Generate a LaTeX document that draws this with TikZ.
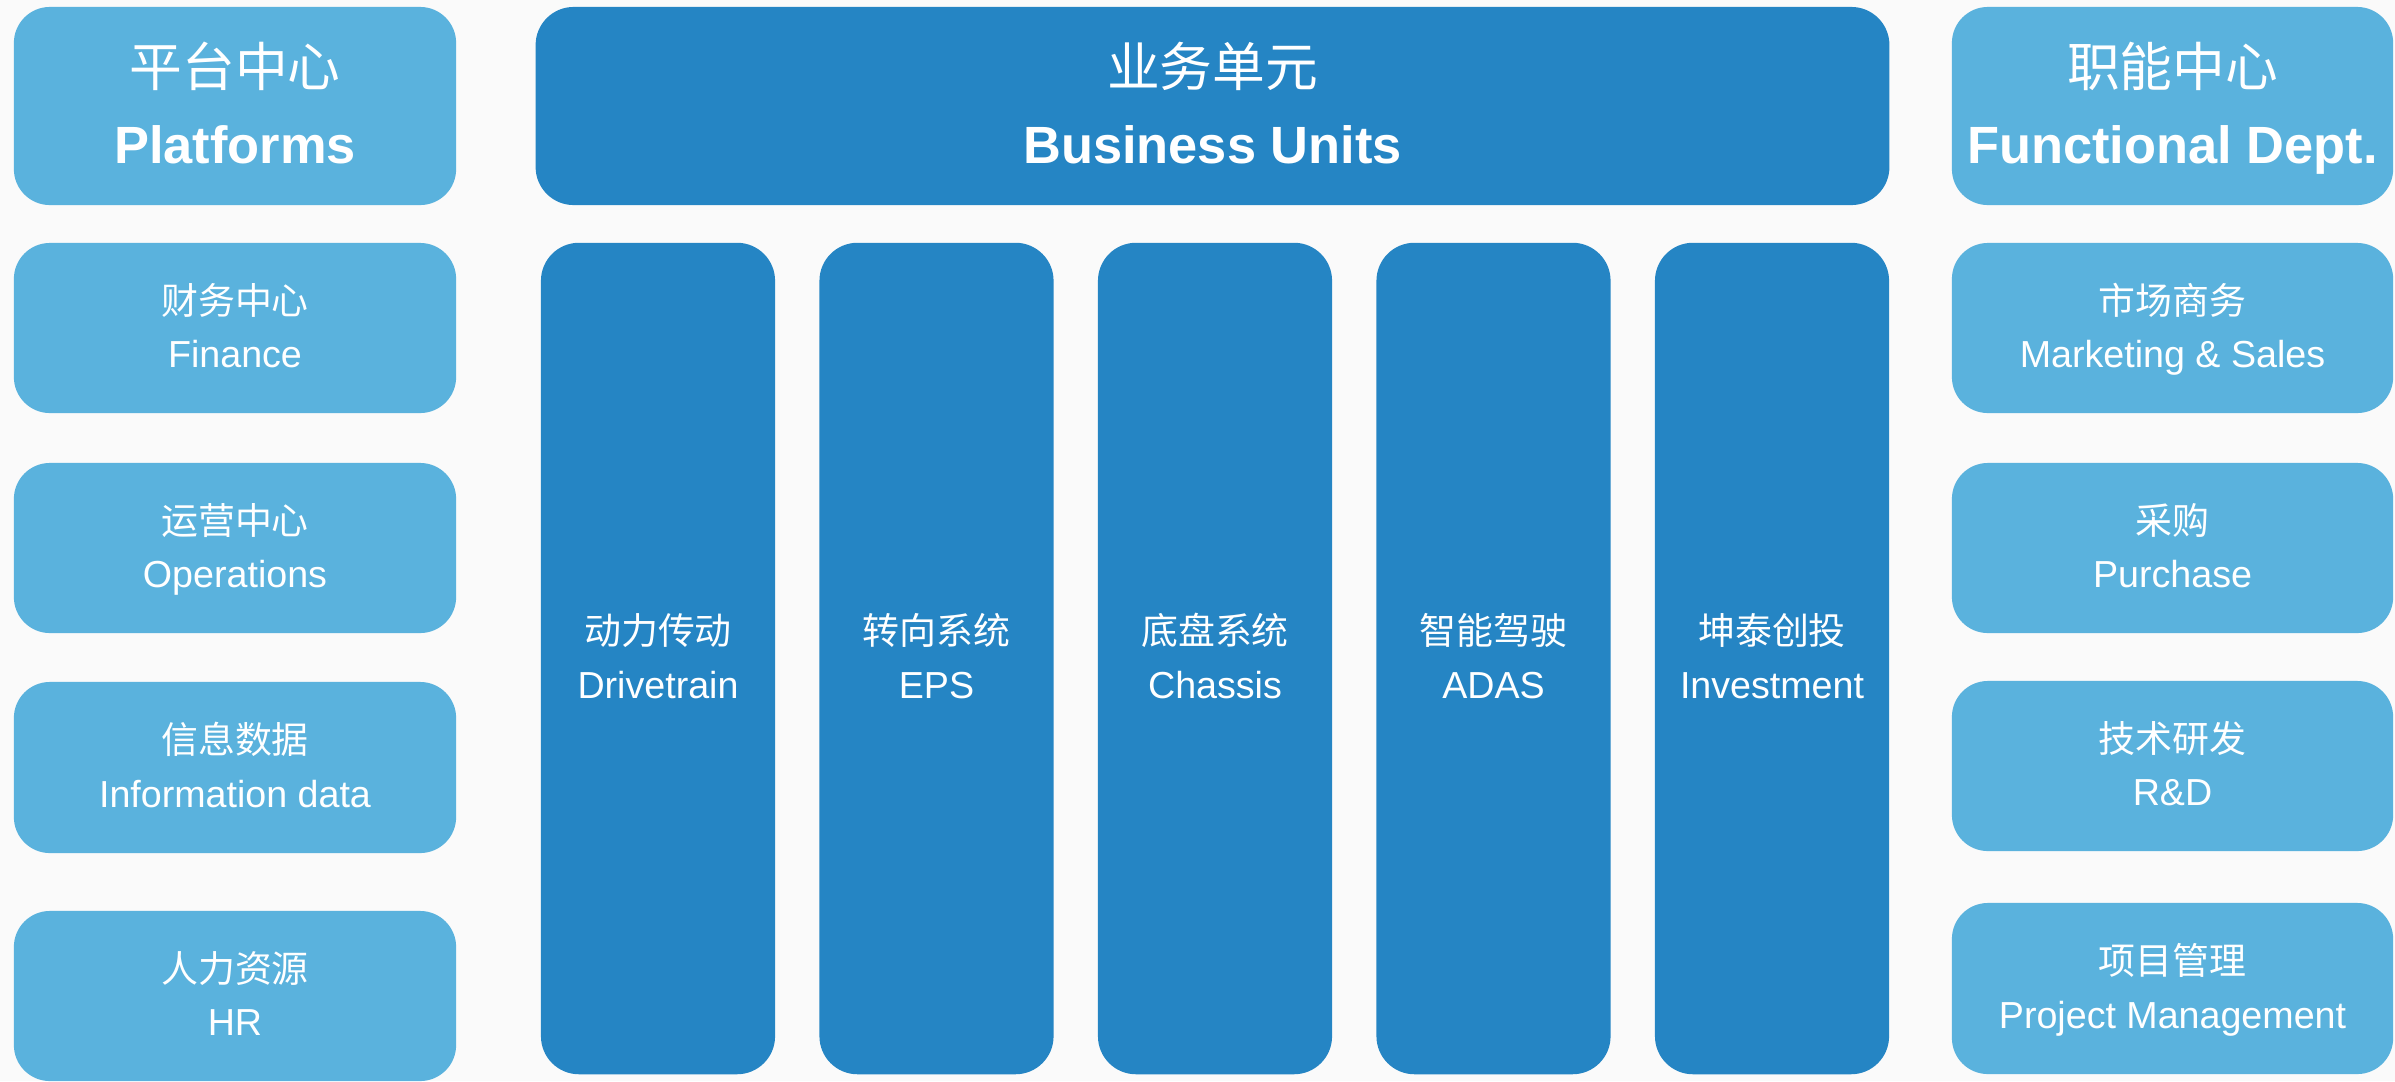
\documentclass[tikz,border=0pt]{standalone}
\usepackage{fontspec}
\setmainfont{Liberation Sans}
\newfontfamily\cjk{Noto Sans CJK SC}
\definecolor{lightblu}{HTML}{5AB2DD}
\definecolor{darkblu}{HTML}{2585C4}
\definecolor{bgcol}{HTML}{FAFAFA}
\newcommand\blk[9]{%
  \pgfmathsetmacro\bw{(#5-#3)/100}\pgfmathsetmacro\bh{(#6-#4)/100}%
  \pgfmathsetmacro\bx{(#3+#5)/2}\pgfmathsetmacro\by{(#4+#6)/2}%
  \node[#2, minimum width=\bw cm, minimum height=\bh cm] (#1) at (\bx,\by) {};
  \ifnum#9=1
    \node[cnh] (#1cn) at ([yshift=0.19cm]#1.center) {#7};
    \node[enh] (#1en) at ([yshift=-0.57cm]#1.center) {#8};
  \else
    \node[cns] (#1cn) at ([yshift=0.14cm]#1.center) {#7};
    \node[ens] (#1en) at ([yshift=-0.395cm]#1.center) {#8};
  \fi
}
\begin{document}
\begin{tikzpicture}[x=0.01cm,y=-0.01cm,
  lbox/.style={fill=lightblu, draw=none, rounded corners=0.36cm, inner sep=0pt, outer sep=0pt},
  dbox/.style={fill=darkblu, draw=none, rounded corners=0.38cm, inner sep=0pt, outer sep=0pt},
  cns/.style={font=\cjk\fontsize{10.5pt}{12pt}\selectfont, text=white, anchor=base, inner sep=0pt},
  ens/.style={font=\fontsize{10.7pt}{12pt}\selectfont, text=white, anchor=base, inner sep=0pt},
  cnh/.style={font=\cjk\fontsize{15pt}{17pt}\selectfont, text=white, anchor=base, inner sep=0pt},
  enh/.style={font=\bfseries\fontsize{14.9pt}{17pt}\selectfont, text=white, anchor=base, inner sep=0pt}]
\fill[bgcol] (0,0) rectangle (2395,1081);
\useasboundingbox (0,0) rectangle (2395,1081);
% left column
\blk{plat}{lbox}{14}{7}{456}{205}{平台中心}{Platforms}{1}
\blk{fin}{lbox}{14}{243}{456}{413}{财务中心}{Finance}{0}
\blk{ops}{lbox}{14}{463}{456}{633}{运营中心}{Operations}{0}
\blk{info}{lbox}{14}{682}{456}{853}{信息数据}{Information data}{0}
\blk{hr}{lbox}{14}{911}{456}{1081}{人力资源}{HR}{0}
% middle
\blk{bu}{dbox}{536}{7}{1889}{205}{业务单元}{Business Units}{1}
\blk{drive}{dbox}{541}{243}{775}{1074}{动力传动}{Drivetrain}{0}
\blk{eps}{dbox}{819.5}{243}{1053.5}{1074}{转向系统}{EPS}{0}
\blk{chas}{dbox}{1098}{243}{1332}{1074}{底盘系统}{Chassis}{0}
\blk{adas}{dbox}{1376.5}{243}{1610.5}{1074}{智能驾驶}{ADAS}{0}
\blk{inv}{dbox}{1655}{243}{1889}{1074}{坤泰创投}{Investment}{0}
% right column
\blk{func}{lbox}{1952}{7}{2393}{205}{职能中心}{Functional Dept.}{1}
\blk{mkt}{lbox}{1952}{243}{2393}{413}{市场商务}{Marketing \& Sales}{0}
\blk{pur}{lbox}{1952}{463}{2393}{633}{采购}{Purchase}{0}
\blk{rd}{lbox}{1952}{681}{2393}{851}{技术研发}{R\&D}{0}
\blk{pm}{lbox}{1952}{903}{2393}{1074}{项目管理}{Project Management}{0}
\end{tikzpicture}
\end{document}
